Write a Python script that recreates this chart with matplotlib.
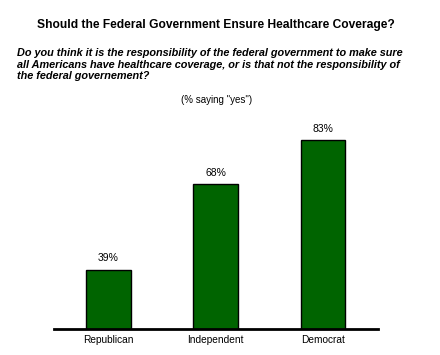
"""Bar chart: should the federal government ensure healthcare coverage."""

import matplotlib.pyplot as plt

parties = ["Republican", "Independent", "Democrat"]
pct_yes = [39, 68, 83]

TITLE = "Should the Federal Government Ensure Healthcare Coverage?"
QUESTION = (
    "Do you think it is the responsibility of the federal government to make sure\n"
    "all Americans have healthcare coverage, or is that not the responsibility of\n"
    "the federal governement?"
)
NOTE = '(% saying "yes")'

plt.rcParams["font.family"] = ["Liberation Sans", "DejaVu Sans"]

fig = plt.figure(figsize=(4.4, 3.55), dpi=100)
ax = fig.add_axes([54 / 440, 26 / 355, 324 / 440, 239 / 355])

positions = range(len(parties))
bars = ax.bar(positions, pct_yes, width=0.415, bottom=0, color="#006400",
              edgecolor="black", linewidth=1.0, zorder=2)

for bar, value in zip(bars, pct_yes):
    ax.text(bar.get_x() + bar.get_width() / 2, value + 2.2, f"{value}%",
            ha="center", va="bottom", fontsize=7.5)

ax.set_xlim(-0.505, 2.51)
ax.set_ylim(19, 100)
ax.set_xticks(list(positions))
ax.set_xticklabels(parties, fontsize=7.3)
ax.tick_params(axis="x", length=0, pad=4)
ax.set_yticks([])
for side in ("top", "right", "left"):
    ax.spines[side].set_visible(False)
ax.spines["bottom"].set_linewidth(2.0)
ax.spines["bottom"].set_zorder(3)

fig.text(216 / 440, 1 - 25 / 355, TITLE, ha="center", va="center",
         fontsize=8.65, fontweight="bold")
fig.text(17 / 440, 1 - 48.5 / 355, QUESTION, ha="left", va="top",
         fontsize=7.8, fontweight="bold", fontstyle="italic", linespacing=1.18)
fig.text(217 / 440, 1 - 100 / 355, NOTE, ha="center", va="center", fontsize=7)

fig.savefig("out.png", dpi=100)
